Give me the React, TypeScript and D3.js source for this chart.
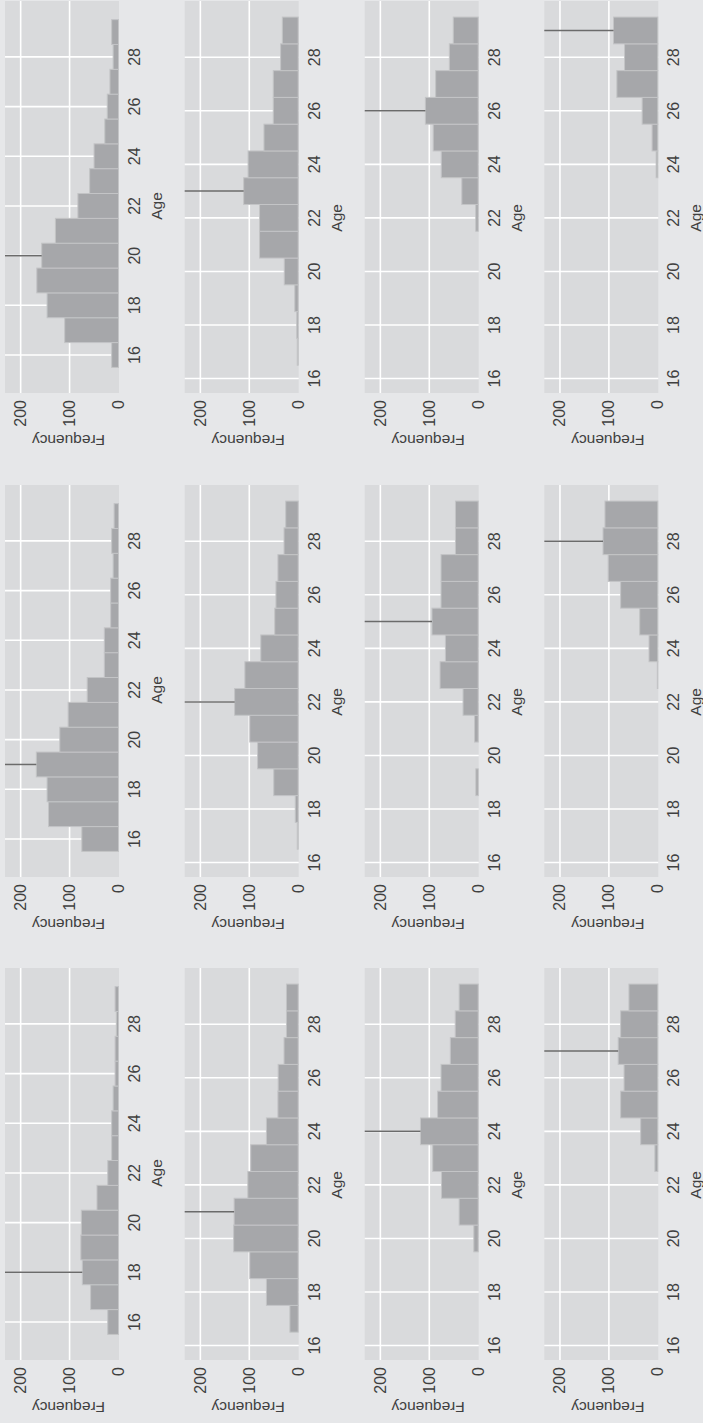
import React from 'react';
import * as d3 from 'd3';

// Age bins (one bar per year of age)
const ages = [16, 17, 18, 19, 20, 21, 22, 23, 24, 25, 26, 27, 28, 29];
const ageTicks = [16, 18, 20, 22, 24, 26, 28];
const freqTicks = [0, 100, 200];
const freqGrid = [100, 200];

// Frequencies per panel, read row by row (rows top->bottom, columns left->right)
const panel1 = [22, 57, 74, 77, 76, 44, 22, 14, 14, 11, 7, 7, 4.5, 7];
const panel2 = [75, 143, 146, 168, 120, 103, 64, 29, 29, 16, 16, 11, 14, 9];
const panel3 = [14, 110, 146, 167, 157, 129, 83, 59, 50, 28, 23, 17.5, 11, 14];
const panel4 = [0, 17, 65, 99, 132, 131, 103, 97, 65, 41.5, 41, 29, 24, 24];
const panel5 = [0, 2, 6, 50, 83, 99, 130, 109, 76.5, 48, 45.5, 41.5, 29, 25.5];
const panel6 = [0, 2, 3, 7, 28.5, 79, 79, 111.5, 102.5, 70, 51, 51, 36, 32.5];
const panel7 = [0, 0, 0, 0, 9, 39, 75, 93, 118, 83, 76, 57, 47, 39];
const panel8 = [0, 0, 0, 4.8, 0, 7.5, 31, 78, 67, 94.5, 76, 76, 46.5, 46.5];
const panel9 = [0, 0, 0, 0, 0, 0, 5, 33.5, 75.5, 92, 108, 87, 59, 51];
const panel10 = [0, 0, 0, 0, 0, 0, 0, 6, 35, 76, 69, 81, 76, 59];
const panel11 = [0, 0, 0, 0, 0, 0, 0, 1, 18, 37, 76, 101.5, 112, 108];
const panel12 = [0, 0, 0, 0, 0, 0, 0, 0, 3.4, 11.7, 32, 83.7, 68, 90.5];

const panels = [panel1, panel2, panel3, panel4, panel5, panel6, panel7, panel8, panel9, panel10, panel11, panel12];
const markerAges = [18, 19, 20, 21, 22, 23, 24, 25, 26, 27, 28, 29];

// layout of the unrotated chart (it is turned a quarter turn anticlockwise)
const W = 1423;
const H = 703;
const colX = [63, 546, 1030];
const rowY = [5, 184.7, 364.7, 544.3];
const panelW = 392;
const panelH = 114;
const ageDomains = [[14.47, 30.25], [15.46, 30.1], [15.46, 30.1], [15.46, 30.1]];

const FONT = "'Liberation Sans', Arial, sans-serif";
const PAGE_BG = '#e6e7e9';
const PANEL_BG = '#d9dadc';
const BAR_FILL = '#a6a7aa';
const BAR_STROKE = '#c3c4c6';
const TEXT = '#404040';

const Panel = ({ values, marker, row }: { values: number[]; marker: number; row: number }) => {
  const x = d3.scaleLinear().domain(ageDomains[row]).range([0, panelW]);
  const y = d3.scaleLinear().domain([-1, 232]).range([panelH, 0]);
  const markerVal = values[ages.indexOf(marker)];

  return (
    <g>
      <rect x={0} y={0} width={panelW} height={panelH} fill={PANEL_BG} />
      {ageTicks.map(t => (
        <line key={'gx' + t} x1={x(t)} x2={x(t)} y1={0} y2={panelH} stroke="#fff" strokeWidth={1.6} />
      ))}
      {freqGrid.map(t => (
        <line key={'gy' + t} x1={0} x2={panelW} y1={y(t)} y2={y(t)} stroke="#fff" strokeWidth={1.6} />
      ))}
      {ages.map((a, i) =>
        values[i] > 0 ? (
          <rect
            key={a}
            x={x(a - 0.5)}
            width={x(a + 0.5) - x(a - 0.5)}
            y={y(values[i])}
            height={y(0) - y(values[i])}
            fill={BAR_FILL}
            stroke={BAR_STROKE}
            strokeWidth={1}
          />
        ) : null
      )}
      <line x1={x(marker)} x2={x(marker)} y1={0} y2={y(markerVal)} stroke="#6b6b6b" strokeWidth={1.5} />
      {ageTicks.map(t => (
        <text key={'tx' + t} x={x(t)} y={panelH + 21} textAnchor="middle" fontSize={16} fill={TEXT}>
          {t}
        </text>
      ))}
      <text x={x(22)} y={panelH + 43} textAnchor="middle" fontSize={15.5} fill={TEXT}>
        Age
      </text>
      {freqTicks.map(t => (
        <text key={'ty' + t} x={-7} y={y(t)} textAnchor="end" dominantBaseline="central" fontSize={16} fill={TEXT}>
          {t}
        </text>
      ))}
      <text
        transform={`translate(${-42},${panelH / 2 + 6.5}) rotate(-90)`}
        textAnchor="middle"
        fontSize={15.5}
        fill={TEXT}
      >
        Frequency
      </text>
    </g>
  );
};

const App = () => {
  return (
    <svg
      width={H}
      height={W}
      style={{ position: 'absolute', left: 0, top: 0, fontFamily: FONT }}
    >
      <rect x={0} y={0} width={H} height={W} fill={PAGE_BG} />
      <g transform={`translate(0,${W}) rotate(-90)`}>
        {panels.map((vals, i) => {
          const row = Math.floor(i / 3);
          const col = i % 3;
          return (
            <g key={i} transform={`translate(${colX[col]},${rowY[row]})`}>
              <Panel values={vals} marker={markerAges[i]} row={row} />
            </g>
          );
        })}
      </g>
    </svg>
  );
};

export default App;
